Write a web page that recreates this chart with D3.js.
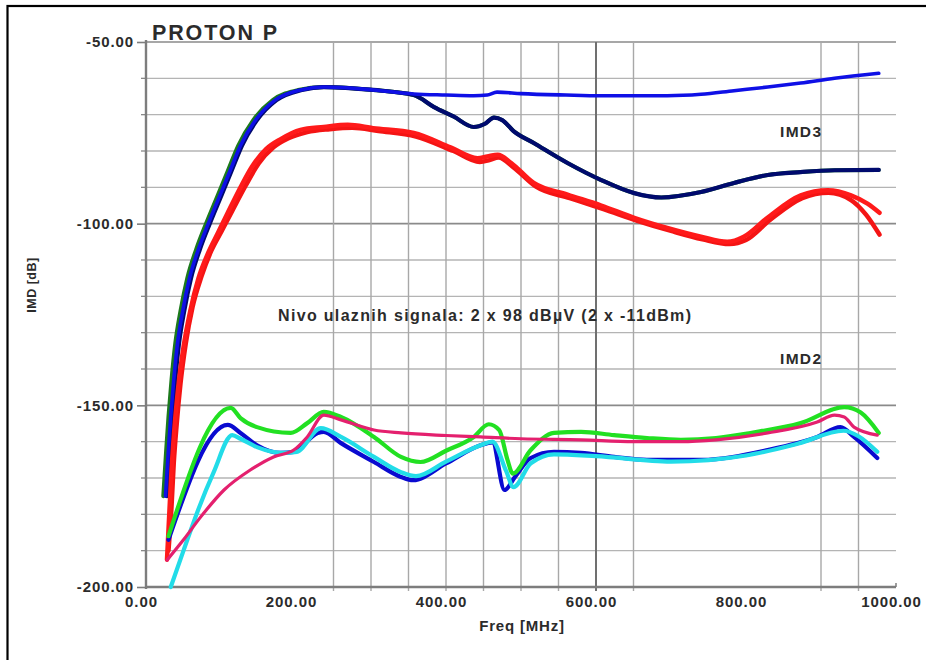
<!DOCTYPE html>
<html>
<head>
<meta charset="utf-8">
<script src="https://cdn.jsdelivr.net/npm/d3@7"></script>
<style>
  html, body { margin: 0; padding: 0; background: #fff; }
  svg { display: block; }
  text { font-family: "Liberation Sans", Arial, sans-serif; font-weight: bold; fill: #2b2b2b; }
</style>
</head>
<body>
<svg id="chart" width="926" height="660"></svg>
<script>
// ---------------- DATA ----------------
const titleText = "PROTON P";
const xTickValues = [0, 200, 400, 600, 800, 1000];
const yTickValues = [-50, -100, -150, -200];
const yGridValues = [-60, -70, -80, -90, -110, -120, -130, -140, -160, -170, -180, -190];
const xGridValues = [250, 300, 350, 400, 450, 500, 550, 650, 900, 950];
const xGridMajor = [600];

// IMD3 curves
const imd3GreenFreq = [23, 27, 30, 34, 39, 46, 55, 67, 80, 95, 109, 123, 143, 169, 203, 237, 303, 357, 384, 410, 437, 452, 464, 475, 490, 517, 562, 607, 651, 687, 740, 784, 829, 873, 918, 977];
const imd3GreenDb   = [-175, -162, -153, -143, -133, -124, -115, -107, -100, -92.5, -85.5, -78.5, -71.5, -66, -63.2, -62.4, -63.2, -64.6, -67.9, -70.5, -73.4, -72.5, -70.8, -71.5, -74.5, -77.8, -83.3, -88, -91.6, -92.8, -91.3, -88.8, -86.6, -85.8, -85.3, -85.2];

const imd3NavyFreq = [28, 32, 35, 39, 44, 51, 60, 72, 85, 100, 114, 128, 148, 174, 208, 237, 303, 357, 384, 410, 437, 452, 464, 475, 490, 517, 562, 607, 651, 687, 740, 784, 829, 873, 918, 977];
const imd3NavyDb   = [-175, -162, -153, -143, -133, -124, -115, -107, -100, -92.5, -85.5, -78.5, -71.5, -66, -63.2, -62.4, -63.2, -64.6, -67.9, -70.5, -73.4, -72.5, -70.8, -71.5, -74.5, -77.8, -83.3, -88, -91.6, -92.8, -91.3, -88.8, -86.6, -85.8, -85.3, -85.2];

const imd3BlueFreq = [26, 30, 33, 37, 42, 49, 58, 70, 83, 98, 112, 126, 146, 172, 206, 237, 303, 357, 400, 437, 455, 468, 500, 560, 607, 695, 740, 784, 829, 873, 918, 977];
const imd3BlueDb   = [-175, -162, -153, -143, -133, -124, -115, -107, -100, -92.5, -85.5, -78.5, -71.5, -66, -63.2, -62.4, -63.2, -64.3, -64.6, -64.8, -64.6, -63.8, -64.2, -64.6, -64.8, -64.8, -64.4, -63.4, -62.4, -61.3, -60, -58.6];

const imd3RedAFreq = [28, 31, 34, 38, 43, 50, 59, 70, 83, 96, 109, 126, 141, 160, 179, 206, 237, 269, 303, 357, 406, 442, 455, 469, 487, 517, 562, 607, 651, 695, 740, 775, 797, 829, 873, 909, 940, 962, 978];
const imd3RedADb   = [-192.5, -180, -168, -156, -145, -134, -124, -115, -108, -102.5, -97, -90, -84.4, -79.5, -76.8, -74.2, -73.4, -72.8, -73.7, -75, -79, -82, -81.5, -81, -83.3, -88.8, -92, -95, -98.4, -101.2, -103.6, -105, -103.6, -98.3, -92.2, -90.8, -92.2, -94.5, -97];

const imd3RedBFreq = [30, 34, 37, 41, 46, 53, 62, 74, 87, 101, 115, 133, 150, 170, 190, 215, 245, 275, 310, 360, 410, 445, 458, 470, 490, 520, 565, 610, 655, 700, 742, 778, 800, 832, 875, 910, 940, 960, 978];
const imd3RedBDb   = [-190, -178, -166, -155, -144, -133, -123, -114.5, -107.5, -102, -96.5, -89.5, -83.5, -79, -76.5, -74.8, -74, -73.6, -74.5, -76, -80, -83, -82.5, -81.8, -84.5, -89.8, -93, -96, -99.2, -102, -104.3, -105.6, -104.5, -99, -93, -91.5, -93.5, -97.5, -103];

// IMD2 curves
const imd2BlueFreq = [30, 109, 126, 148, 179, 197, 229, 237, 260, 304, 340, 356, 400, 446, 462, 478, 492, 513, 544, 580, 624, 668, 740, 829, 895, 926, 944, 975];
const imd2BlueDb   = [-187, -155.4, -157.6, -161, -163.1, -162.8, -157.6, -157.3, -160.4, -165.6, -169.7, -170.6, -166, -161, -160.2, -173.3, -169.7, -164.5, -162.8, -163.1, -164.2, -165, -165, -162.3, -158.7, -156, -158.7, -164.5];

const imd2CyanFreq = [33, 50, 70, 90, 115, 126, 148, 183, 201, 233, 260, 304, 340, 360, 400, 446, 462, 480, 490, 513, 544, 600, 700, 800, 870, 930, 950, 975];
const imd2CyanDb   = [-200, -190, -178.5, -168.5, -158.2, -159.2, -161.5, -163.1, -162.8, -156.3, -158.7, -164.2, -168.4, -169.5, -165.5, -161, -160, -168, -172.5, -166, -163.5, -164, -165.5, -163.8, -160.5, -157, -158.5, -162.8];

const imd2GreenFreq = [30, 113, 126, 148, 193, 215, 237, 260, 304, 340, 366, 400, 437, 457, 471, 482, 489, 513, 544, 580, 624, 668, 713, 760, 806, 873, 931, 953, 977];
const imd2GreenDb   = [-186, -150.7, -153.5, -156, -157.6, -154.9, -151.8, -153.2, -158.7, -164.2, -165.6, -162.5, -158.7, -155.2, -156.8, -165, -168.8, -162.3, -157.6, -157.3, -158.2, -159, -159.5, -159, -157.6, -154.9, -150.5, -152, -157.6];

const imd2PinkFreq = [28, 50, 73, 104, 139, 170, 197, 215, 237, 260, 304, 340, 400, 446, 500, 580, 650, 713, 760, 829, 895, 918, 931, 944, 975];
const imd2PinkDb   = [-192.6, -187, -180.7, -173.3, -167.8, -164.2, -162.3, -158.7, -152.7, -154, -156.8, -157.6, -158.3, -158.7, -159.2, -159.5, -160, -160, -159.5, -157.6, -154.6, -152.7, -153.2, -156, -158.2];

// ---------------- CHART ----------------
const svg = d3.select("#chart");
const x = d3.scaleLinear().domain([0, 1000]).range([146, 896]);
const y = d3.scaleLinear().domain([-200, -50]).range([587, 42]);

// frame
svg.append("rect").attr("x", 7.5).attr("y", 6).attr("width", 940).attr("height", 680)
  .attr("fill", "none").attr("stroke", "#000").attr("stroke-width", 2.2);

// horizontal grid
svg.append("g").selectAll("line").data(yGridValues).join("line")
  .attr("x1", x(0)).attr("x2", x(1000)).attr("y1", d => y(d)).attr("y2", d => y(d))
  .attr("stroke", "#b4b4b4").attr("stroke-width", 1.3);
svg.append("g").selectAll("line").data(yTickValues.filter(d => d !== -200)).join("line")
  .attr("x1", x(0)).attr("x2", x(1000)).attr("y1", d => y(d)).attr("y2", d => y(d))
  .attr("stroke", "#8a8a8a").attr("stroke-width", 1.6);

// vertical grid
svg.append("g").selectAll("line").data(xGridValues).join("line")
  .attr("x1", d => x(d)).attr("x2", d => x(d)).attr("y1", y(-50)).attr("y2", y(-200) + 4)
  .attr("stroke", "#a8a8a8").attr("stroke-width", 1.4);
svg.append("g").selectAll("line").data(xGridMajor).join("line")
  .attr("x1", d => x(d)).attr("x2", d => x(d)).attr("y1", y(-50)).attr("y2", y(-200) + 4)
  .attr("stroke", "#707070").attr("stroke-width", 2);

// minor y ticks
svg.append("g").selectAll("line").data(yGridValues).join("line")
  .attr("x1", x(0) - 5).attr("x2", x(0)).attr("y1", d => y(d)).attr("y2", d => y(d))
  .attr("stroke", "#888").attr("stroke-width", 1.3);

// axis lines
svg.append("line").attr("x1", x(0)).attr("x2", x(0)).attr("y1", y(-50) - 2).attr("y2", y(-200) + 2)
  .attr("stroke", "#7d7d7d").attr("stroke-width", 2.4);
svg.append("line").attr("x1", x(0)).attr("x2", x(1000)).attr("y1", y(-200)).attr("y2", y(-200))
  .attr("stroke", "#7d7d7d").attr("stroke-width", 2.4);
svg.append("line").attr("x1", x(1000)).attr("x2", x(1000)).attr("y1", y(-200) - 4).attr("y2", y(-200))
  .attr("stroke", "#7d7d7d").attr("stroke-width", 1.5);

// Y axis
const yAxis = d3.axisLeft(y).tickValues(yTickValues).tickSize(9).tickPadding(3)
  .tickFormat(d => d.toFixed(2));
const gy = svg.append("g").attr("transform", `translate(${x(0)},0)`).call(yAxis);
gy.select(".domain").remove();
gy.selectAll(".tick line").attr("stroke", "#7d7d7d").attr("stroke-width", 1.6);
gy.selectAll(".tick text").attr("font-size", 15).attr("letter-spacing", 0.9)
  .attr("font-family", "Liberation Sans, Arial, sans-serif").attr("font-weight", "bold")
  .attr("fill", "#333");

// X axis
const xAxis = d3.axisBottom(x).tickValues(xTickValues).tickSize(0).tickPadding(0)
  .tickFormat(d => d.toFixed(2));
const gx = svg.append("g").attr("transform", `translate(0,${y(-200)})`).call(xAxis);
gx.select(".domain").remove();
gx.selectAll(".tick text").attr("font-size", 15).attr("letter-spacing", 0.9)
  .attr("font-family", "Liberation Sans, Arial, sans-serif").attr("font-weight", "bold")
  .attr("fill", "#333").attr("y", 20).attr("dy", 0).attr("dx", -5);

// curves
const line = d3.line().x(d => x(d[0])).y(d => y(d[1])).curve(d3.curveMonotoneX);
const series = [
  { f: imd3GreenFreq, v: imd3GreenDb, c: "#1c7a1c", w: 4 },
  { f: imd3NavyFreq, v: imd3NavyDb, c: "#000a6e", w: 4.2 },
  { f: imd3BlueFreq, v: imd3BlueDb, c: "#0f10e6", w: 3.6 },
  { f: imd3RedBFreq, v: imd3RedBDb, c: "#f41414", w: 4.5 },
  { f: imd3RedAFreq, v: imd3RedADb, c: "#ff1a1a", w: 4.5 },
  { f: imd2BlueFreq, v: imd2BlueDb, c: "#0a0ad0", w: 4.2 },
  { f: imd2CyanFreq, v: imd2CyanDb, c: "#22dce8", w: 4.2 },
  { f: imd2GreenFreq, v: imd2GreenDb, c: "#22e022", w: 4.2 },
  { f: imd2PinkFreq, v: imd2PinkDb, c: "#e4206e", w: 3.2 }
];
const gc = svg.append("g");
series.forEach(s => {
  gc.append("path").datum(s.f.map((f, i) => [f, s.v[i]]))
    .attr("d", line).attr("fill", "none").attr("stroke", s.c)
    .attr("stroke-width", s.w).attr("stroke-linejoin", "round").attr("stroke-linecap", "round");
});

// texts
svg.append("text").attr("x", 152).attr("y", 39.5).attr("font-size", 21.5)
  .attr("textLength", 125).attr("lengthAdjust", "spacing").attr("fill", "#222").text(titleText);

svg.append("text").attr("x", 278).attr("y", 320.5).attr("font-size", 16)
  .attr("textLength", 413).attr("lengthAdjust", "spacing").attr("fill", "#2a2a2a")
  .text("Nivo ulaznih signala: 2 x 98 dBµV (2 x -11dBm)");

svg.append("text").attr("x", 780).attr("y", 137).attr("font-size", 15.5)
  .attr("textLength", 41).attr("lengthAdjust", "spacing").attr("fill", "#2a2a2a").text("IMD3");
svg.append("text").attr("x", 780).attr("y", 364).attr("font-size", 15.5)
  .attr("textLength", 41).attr("lengthAdjust", "spacing").attr("fill", "#2a2a2a").text("IMD2");

svg.append("text").attr("x", 522).attr("y", 631).attr("text-anchor", "middle")
  .attr("font-size", 15).attr("letter-spacing", 0.8).attr("fill", "#2a2a2a").text("Freq [MHz]");

svg.append("text").attr("transform", "translate(36,285) rotate(-90)").attr("text-anchor", "middle")
  .attr("font-size", 12.5).attr("letter-spacing", 0.5).attr("fill", "#2a2a2a").text("IMD [dB]");
</script>
</body>
</html>
